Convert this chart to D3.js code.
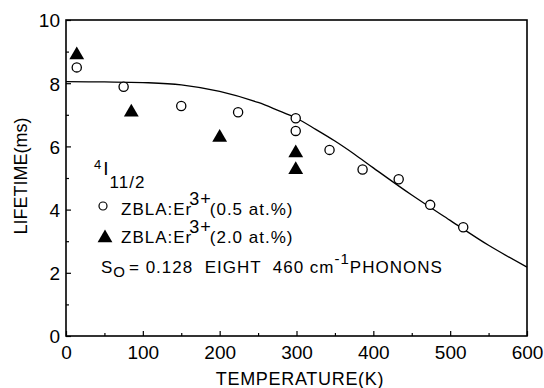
<!DOCTYPE html>
<html>
<head>
<meta charset="utf-8">
<script src="https://cdn.jsdelivr.net/npm/d3@7"></script>
<style>
  html, body { margin: 0; padding: 0; background: #fff; }
  svg { display: block; font-family: "Liberation Sans", Arial, sans-serif; }
  .legend text { white-space: pre; }
</style>
</head>
<body>
<svg id="chart" width="544" height="388"></svg>
<script>
// Er3+ 4I11/2 lifetime vs temperature in ZBLA glass
const lowConcT = [14, 75, 150, 224, 299, 299, 343, 386, 433, 474, 517];
const lowConcTau = [8.5, 7.89, 7.28, 7.08, 6.89, 6.49, 5.89, 5.27, 4.96, 4.15, 3.44];
const highConcT = [14, 85, 200, 299, 299];
const highConcTau = [8.89, 7.08, 6.28, 5.79, 5.26];
// multiphonon-decay model curve (S0 = 0.128, eight 460 cm^-1 phonons)
const fitT = [0, 50, 100, 150, 200, 250, 275, 300, 325, 350, 375, 400, 450, 500, 550, 600];
const fitTau = [8.05, 8.04, 8.02, 7.95, 7.74, 7.39, 7.15, 6.89, 6.54, 6.17, 5.76, 5.32, 4.46, 3.66, 2.87, 2.18];
const xTicks = [0, 100, 200, 300, 400, 500, 600];
const yTicks = [0, 2, 4, 6, 8, 10];

const svg = d3.select("#chart");
const plotL = 66, plotR = 527, plotT = 20, plotB = 336;

const x = d3.scaleLinear().domain([0, 600]).range([plotL, plotR]);
const y = d3.scaleLinear().domain([0, 10]).range([plotB, plotT]);

// axes with inward ticks
const xAxis = d3.axisBottom(x).tickValues(d3.range(0, 601, 50))
  .tickSize(-5).tickPadding(10)
  .tickFormat(d => xTicks.includes(d) ? d : "");
const yAxis = d3.axisLeft(y).tickValues(d3.range(0, 11, 1))
  .tickSize(-5).tickPadding(6)
  .tickFormat(d => yTicks.includes(d) ? d : "");

const gx = svg.append("g").attr("transform", `translate(0,${plotB})`).call(xAxis);
const gy = svg.append("g").attr("transform", `translate(${plotL},0)`).call(yAxis);
[gx, gy].forEach(g => {
  g.select(".domain").remove();
  g.selectAll("line").attr("stroke", "#000").attr("stroke-width", 1.2);
  g.selectAll("text").attr("fill", "#000").attr("font-size", 19)
    .attr("font-family", "Liberation Sans, Arial, sans-serif");
});
gx.selectAll(".tick").filter(d => !xTicks.includes(d)).select("line").attr("y2", -3);
gy.selectAll(".tick").filter(d => !yTicks.includes(d)).select("line").attr("x2", 3);
gy.selectAll("text").attr("dy", "0.36em");

// frame
svg.append("rect")
  .attr("x", plotL).attr("y", plotT)
  .attr("width", plotR - plotL).attr("height", plotB - plotT)
  .attr("fill", "none").attr("stroke", "#000").attr("stroke-width", 1.6);

// model curve
const line = d3.line().x((d, i) => x(fitT[i])).y(d => y(d)).curve(d3.curveCatmullRom.alpha(0.5));
svg.append("path").datum(fitTau)
  .attr("d", line)
  .attr("fill", "none").attr("stroke", "#000").attr("stroke-width", 1.3);

// 0.5 at.% sample: open circles
svg.append("g").selectAll("circle").data(lowConcTau).join("circle")
  .attr("cx", (d, i) => x(lowConcT[i])).attr("cy", d => y(d))
  .attr("r", 4.6).attr("fill", "#fff").attr("stroke", "#000").attr("stroke-width", 1.3);

// 2.0 at.% sample: filled triangles
const tri = d3.symbol(d3.symbolTriangle, 95);
svg.append("g").selectAll("path").data(highConcTau).join("path")
  .attr("d", tri)
  .attr("transform", (d, i) => `translate(${x(highConcT[i])},${y(d)})`)
  .attr("fill", "#000");

// axis titles
svg.append("text").attr("x", 300).attr("y", 385)
  .attr("text-anchor", "middle").attr("font-size", 18).attr("letter-spacing", 0.7)
  .text("TEMPERATURE(K)");
svg.append("text").attr("transform", "translate(27,176) rotate(-90)")
  .attr("text-anchor", "middle").attr("font-size", 18)
  .text("LIFETIME(ms)");

// legend
const leg = svg.append("g").attr("class", "legend").attr("font-size", 17).attr("letter-spacing", 1);
const lvl = leg.append("text").attr("x", 94).attr("y", 188);
lvl.append("tspan").attr("font-size", 13).attr("dy", -19).text("4");
lvl.append("tspan").attr("font-size", 19).attr("dy", 6).attr("dx", 1).text("I");
lvl.append("tspan").attr("font-size", 17).attr("dy", 13).text("11/2");

leg.append("circle").attr("cx", 103).attr("cy", 206).attr("r", 4)
  .attr("fill", "#fff").attr("stroke", "#000").attr("stroke-width", 1.2);
const t1 = leg.append("text").attr("x", 121).attr("y", 215);
t1.append("tspan").text("ZBLA:Er");
t1.append("tspan").attr("dy", -10).attr("dx", -3).attr("font-size", 18).text("3+");
t1.append("tspan").attr("dy", 10).attr("dx", -2).text("(0.5 at.%)");

leg.append("path").attr("d", tri).attr("transform", "translate(105,238)").attr("fill", "#000");
const t2 = leg.append("text").attr("x", 121).attr("y", 243);
t2.append("tspan").text("ZBLA:Er");
t2.append("tspan").attr("dy", -10).attr("dx", -3).attr("font-size", 18).text("3+");
t2.append("tspan").attr("dy", 10).attr("dx", -2).text("(2.0 at.%)");

const t3 = leg.append("text").attr("x", 101).attr("y", 273);
t3.append("tspan").text("S");
t3.append("tspan").attr("dy", 4).attr("font-size", 15).text("O");
t3.append("tspan").attr("dy", -4).attr("dx", 3).text("= 0.128  EIGHT  460 cm");
t3.append("tspan").attr("dy", -9).attr("font-size", 15).text("-1");
t3.append("tspan").attr("dy", 9).text("PHONONS");
</script>
</body>
</html>
